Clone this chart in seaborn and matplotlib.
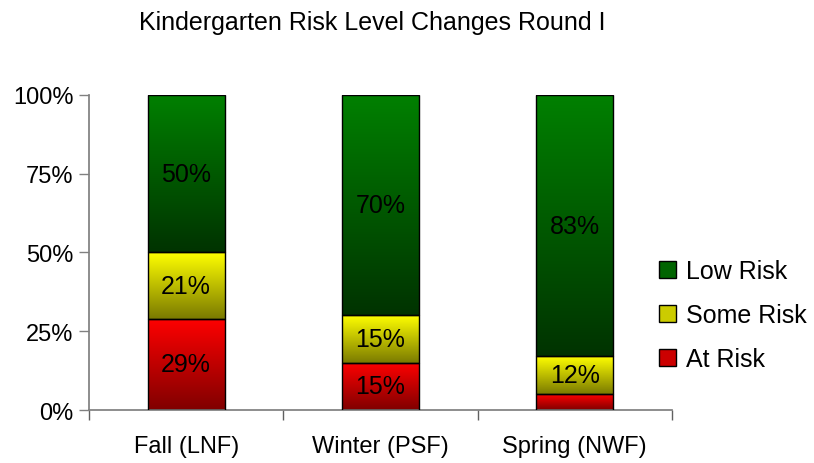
import matplotlib
matplotlib.use('Agg')
import matplotlib.pyplot as plt
import matplotlib.colors as mcolors
from matplotlib.patches import Patch
import seaborn as sns
import numpy as np
import pandas as pd

categories = ['Fall (LNF)', 'Winter (PSF)', 'Spring (NWF)']
at_risk = [29, 15, 5]
some_risk = [21, 15, 12]
low_risk = [50, 70, 83]
series_names = ['At Risk', 'Some Risk', 'Low Risk']
label_shown = [[True, True, False], [True, True, True], [True, True, True]]

# top colour -> bottom colour for each series
grads = {
    'At Risk': ('#ff0000', '#800000'),
    'Some Risk': ('#ffff00', '#7a7a00'),
    'Low Risk': ('#008000', '#003300'),
}

sns.set_theme(style='white')
plt.rcParams['font.family'] = ['Liberation Sans', 'DejaVu Sans']
plt.rcParams['text.color'] = 'black'
plt.rcParams['xtick.color'] = 'black'
plt.rcParams['ytick.color'] = 'black'

fig = plt.figure(figsize=(8.14, 4.64), dpi=100)
ax = fig.add_axes([0.1093, 0.1142, 0.7162, 0.679])

df = pd.DataFrame({'cat': categories, 'At Risk': at_risk,
                   'Some Risk': some_risk, 'Low Risk': low_risk})

bottom = np.zeros(len(categories))
series_patches = []
for name in series_names:
    before = len(ax.patches)
    sns.barplot(data=df, x='cat', y=name, bottom=bottom, width=0.395,
                color=grads[name][0], edgecolor='black', linewidth=1.0,
                ax=ax, zorder=3)
    series_patches.append(ax.patches[before:])
    bottom = bottom + df[name].values

# gradient fills
for name, patches in zip(series_names, series_patches):
    cmap = mcolors.LinearSegmentedColormap.from_list(name, [grads[name][1], grads[name][0]])
    grad = np.linspace(0, 1, 256).reshape(-1, 1)
    for p in patches:
        x0, y0 = p.get_x(), p.get_y()
        w, h = p.get_width(), p.get_height()
        ax.imshow(grad, cmap=cmap, origin='lower', aspect='auto',
                  extent=(x0, x0 + w, y0, y0 + h), zorder=2, interpolation='bilinear')
        p.set_facecolor('none')

ax.set_xlim(-0.5, 2.5)
ax.set_ylim(0, 100)

# value labels
for si, (name, patches) in enumerate(zip(series_names, series_patches)):
    for ci, p in enumerate(patches):
        if not label_shown[si][ci]:
            continue
        ax.text(p.get_x() + p.get_width() / 2, p.get_y() + p.get_height() / 2,
                f'{int(round(p.get_height()))}%', ha='center', va='center',
                fontsize=18, color='black', zorder=4)

ax.set_yticks([0, 25, 50, 75, 100])
ax.set_yticklabels(['0%', '25%', '50%', '75%', '100%'], fontsize=17)
ax.tick_params(axis='y', left=True, length=7, width=1, color='#808080',
               direction='out', pad=4)
ax.set_xticks([-0.5, 0.5, 1.5, 2.5], minor=True)
ax.tick_params(axis='x', which='major', bottom=False, labelsize=17, pad=12)
ax.tick_params(axis='x', which='minor', bottom=True, length=7, width=1,
               color='#606060', direction='out')
ax.set_xlabel('')
ax.set_ylabel('')
for s in ['top', 'right']:
    ax.spines[s].set_visible(False)
ax.spines['left'].set_color('#808080')
ax.spines['bottom'].set_color('#808080')

fig.text(0.457, 0.95, 'Kindergarten Risk Level Changes Round I', ha='center',
         va='center', fontsize=18)

handles = [Patch(facecolor='#006400', edgecolor='black', label='Low Risk'),
           Patch(facecolor='#cccc00', edgecolor='black', label='Some Risk'),
           Patch(facecolor='#cc0000', edgecolor='black', label='At Risk')]
fig.legend(handles=handles, loc='center left', bbox_to_anchor=(0.797, 0.318),
           frameon=False, fontsize=18, handlelength=0.7, handleheight=0.7,
           handletextpad=0.4, labelspacing=0.8, borderaxespad=0.0)

fig.savefig('out.png', dpi=100)
